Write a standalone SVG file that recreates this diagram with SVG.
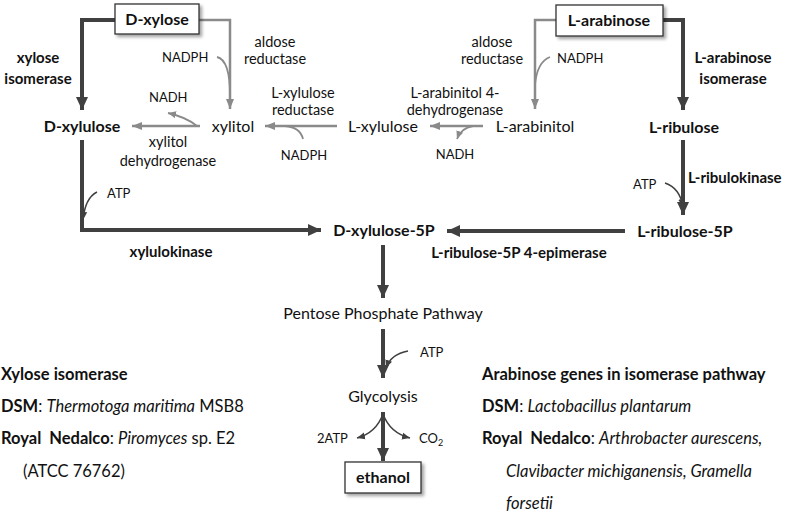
<svg xmlns="http://www.w3.org/2000/svg" width="793" height="513" viewBox="0 0 793 513">
<style>
text{font-family:Lato,"Open Sans","Liberation Sans",sans-serif;fill:#111}
.m{font-size:16px}
.b{font-weight:bold}
.e{font-size:14.5px}
.c{font-size:13px}
.n{font-size:15px}
.k{font-size:16.5px}
.mid{text-anchor:middle}
.thick{fill:none;stroke:#404040;stroke-width:4}
.gray{fill:none;stroke:#8a8a8a;stroke-width:2.5}
.thin{fill:none;stroke:#404040;stroke-width:1.5}
.grayc{fill:none;stroke:#8a8a8a;stroke-width:1.8}
.box{fill:#fff;stroke:#333;stroke-width:1.3}
</style>
<defs>
<marker id="aT" markerUnits="userSpaceOnUse" markerWidth="14" markerHeight="14" viewBox="0 0 14 14" refX="13" refY="7" orient="auto"><path d="M0,1 L13,7 L0,13 Z" fill="#404040"/></marker>
<marker id="aG" markerUnits="userSpaceOnUse" markerWidth="11" markerHeight="10" viewBox="0 0 11 10" refX="10" refY="5" orient="auto"><path d="M0,1 L10,5 L0,9 Z" fill="#8a8a8a"/></marker>
<marker id="aS" markerUnits="userSpaceOnUse" markerWidth="9" markerHeight="8" viewBox="0 0 9 8" refX="8" refY="4" orient="auto"><path d="M0,0.5 L8,4 L0,7.5 Z" fill="#404040"/></marker>
<marker id="aSG" markerUnits="userSpaceOnUse" markerWidth="9" markerHeight="8" viewBox="0 0 9 8" refX="8" refY="4" orient="auto"><path d="M0,0.5 L8,4 L0,7.5 Z" fill="#8a8a8a"/></marker>
<filter id="sh" x="-10%" y="-20%" width="130%" height="160%"><feDropShadow dx="2.5" dy="2.5" stdDeviation="1.5" flood-color="#000" flood-opacity="0.35"/></filter>
</defs>

<g id="connectors">
<path class="thick" d="M116,20 H82 V110" marker-end="url(#aT)"/>
<path class="thick" d="M663,20 H683 V110" marker-end="url(#aT)"/>
<path class="thick" d="M683,140 V215" marker-end="url(#aT)"/>
<path class="thick" d="M82,140 V230 H321" marker-end="url(#aT)"/>
<path class="thick" d="M625,231 H447" marker-end="url(#aT)"/>
<path class="thick" d="M383,245 V298" marker-end="url(#aT)"/>
<path class="thick" d="M383,329 V378" marker-end="url(#aT)"/>
<path class="thick" d="M383,412 V461" marker-end="url(#aT)"/>
<path class="thin" d="M97,192 Q85,198 83,220" marker-end="url(#aS)"/>
<path class="thin" d="M665,183 Q680,188 683,207" marker-end="url(#aS)"/>
<path class="thin" d="M408,351 Q391,354 386,368" marker-end="url(#aS)"/>
<path class="thin" d="M383,414 Q376,433 357,438" marker-end="url(#aS)"/>
<path class="thin" d="M383,414 Q390,433 410,438" marker-end="url(#aS)"/>
<path class="gray" d="M199,20 H230 V109" marker-end="url(#aG)"/>
<path class="grayc" d="M217,57 Q230,60 230,95"/>
<path class="gray" d="M200,126 H132" marker-end="url(#aG)"/>
<path class="grayc" d="M197,126 Q186,117 168,113" marker-end="url(#aSG)"/>
<path class="gray" d="M337,126 H265" marker-end="url(#aG)"/>
<path class="grayc" d="M303,139 Q300,127 285,126"/>
<path class="gray" d="M483,126 H430" marker-end="url(#aG)"/>
<path class="grayc" d="M473,126 Q461,128 457,139" marker-end="url(#aSG)"/>
<path class="gray" d="M556,20 H535 V109" marker-end="url(#aG)"/>
<path class="grayc" d="M550,57 Q537,62 535,85"/>
</g>

<g id="d-xylose"><rect class="box" x="115" y="4" width="84" height="30" filter="url(#sh)"/><text class="m b mid" x="157" y="25">D-xylose</text></g>
<g id="l-arabinose"><rect class="box" x="556" y="5" width="107" height="31" filter="url(#sh)"/><text class="m b mid" x="609" y="26">L-arabinose</text></g>
<g id="d-xylulose"><text class="m b mid" x="82" y="132">D-xylulose</text></g>
<g id="xylitol"><text class="m mid" x="233" y="132">xylitol</text></g>
<g id="l-xylulose"><text class="m mid" x="383" y="132">L-xylulose</text></g>
<g id="l-arabinitol"><text class="m mid" x="535" y="132">L-arabinitol</text></g>
<g id="l-ribulose"><text class="m b mid" x="684" y="133">L-ribulose</text></g>
<g id="d-xylulose-5p"><text class="m b mid" x="384" y="236">D-xylulose-5P</text></g>
<g id="l-ribulose-5p"><text class="m b mid" x="685" y="237">L-ribulose-5P</text></g>
<g id="ppp"><text class="m mid" x="383" y="319">Pentose Phosphate Pathway</text></g>
<g id="glycolysis"><text class="m mid" x="383" y="402">Glycolysis</text></g>
<g id="ethanol"><rect class="box" x="345" y="462" width="76" height="31" filter="url(#sh)"/><text class="m b mid" x="383" y="483">ethanol</text></g>

<g id="labels">
<text class="n b mid" x="38" y="63">xylose</text>
<text class="n b mid" x="38" y="84">isomerase</text>
<text class="e mid" x="275" y="47">aldose</text>
<text class="e mid" x="275" y="64">reductase</text>
<text class="c" x="162" y="62">NADPH</text>
<text class="c" x="149" y="102">NADH</text>
<text class="e mid" x="168" y="147">xylitol</text>
<text class="e mid" x="168" y="166">dehydrogenase</text>
<text class="e mid" x="303" y="98">L-xylulose</text>
<text class="e mid" x="303" y="115">reductase</text>
<text class="c mid" x="304" y="160">NADPH</text>
<text class="e mid" x="455" y="98">L-arabinitol 4-</text>
<text class="e mid" x="455" y="115">dehydrogenase</text>
<text class="c mid" x="455" y="159">NADH</text>
<text class="e mid" x="492" y="47">aldose</text>
<text class="e mid" x="492" y="64">reductase</text>
<text class="c" x="557" y="63">NADPH</text>
<text class="n b mid" x="733" y="63">L-arabinose</text>
<text class="n b mid" x="733" y="84">isomerase</text>
<text class="c" x="107" y="198">ATP</text>
<text class="n b mid" x="171" y="257">xylulokinase</text>
<text class="c" x="633" y="189">ATP</text>
<text class="n b" x="688" y="183">L-ribulokinase</text>
<text class="n b mid" x="519" y="258">L-ribulose-5P 4-epimerase</text>
<text class="c" x="420" y="357">ATP</text>
<text class="c" x="317" y="443">2ATP</text>
<text class="c" x="419" y="443">CO<tspan font-size="9" dy="3">2</tspan></text>
</g>

<g id="notes">
<text class="k b" x="1" y="380">Xylose isomerase</text>
<text class="k" x="1" y="412"><tspan font-weight="bold">DSM</tspan>: <tspan font-style="italic">Thermotoga maritima</tspan> MSB8</text>
<text class="k" x="1" y="444" xml:space="preserve"><tspan font-weight="bold">Royal  Nedalco</tspan>: <tspan font-style="italic">Piromyces</tspan> sp. E2</text>
<text class="k" x="23" y="477">(ATCC 76762)</text>
<text class="k b" x="482" y="380">Arabinose genes in isomerase pathway</text>
<text class="k" x="482" y="412"><tspan font-weight="bold">DSM</tspan>: <tspan font-style="italic">Lactobacillus plantarum</tspan></text>
<text class="k" x="482" y="444" xml:space="preserve"><tspan font-weight="bold">Royal  Nedalco</tspan>: <tspan font-style="italic">Arthrobacter aurescens,</tspan></text>
<text class="k" x="506" y="477" font-style="italic">Clavibacter michiganensis, Gramella</text>
<text class="k" x="506" y="509" font-style="italic">forsetii</text>
</g>
</svg>
